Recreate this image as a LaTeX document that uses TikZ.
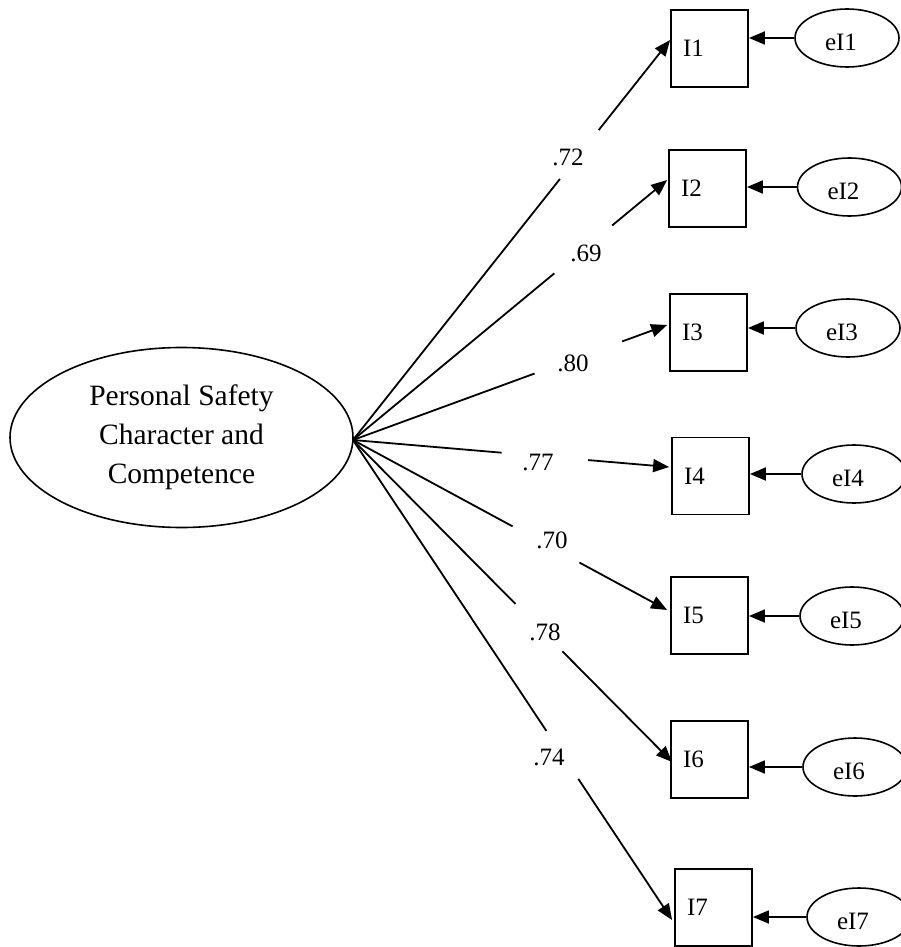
\documentclass[tikz,border=0pt]{standalone}
\usepackage{fontspec}
\setmainfont{Liberation Serif}
\usetikzlibrary{shapes.geometric,arrows.meta,calc}
\begin{document}
\begin{tikzpicture}[x=1pt,y=-1pt,
  every path/.style={line width=1.8pt},
  arr/.style={-{Triangle[length=16pt,width=13pt]}},
  latent/.style={draw,ellipse,line width=1.6pt,inner sep=0pt,minimum width=343pt,minimum height=180pt,align=center,font=\fontsize{29.5}{39}\selectfont},
  obs/.style={draw,rectangle,line width=1.8pt,minimum width=77pt,minimum height=77pt,text width=53pt,inner sep=12pt,align=left,font=\fontsize{25}{30}\selectfont},
  err/.style={draw,ellipse,line width=1.6pt,minimum width=104pt,minimum height=58pt,inner sep=0pt},
  errtxt/.style={font=\fontsize{25}{30}\selectfont,xshift=-6pt,yshift=-4pt},
  coef/.style={font=\fontsize{25}{30}\selectfont,inner sep=0pt}]
\useasboundingbox (0,0) rectangle (900,947);

\node[latent] (F) at (181.5,437.5) {Personal Safety\\Character and\\Competence};
\coordinate (src) at (353,440);

\node[obs] (I1) at (709.5,48.5) {I1};
\node[obs] (I2) at (707.5,188.5) {I2};
\node[obs] (I3) at (708.5,332.5) {I3};
\node[obs] (I4) at (710.5,476) {I4};
\node[obs] (I5) at (709.5,615.5) {I5};
\node[obs] (I6) at (709.5,759.5) {I6};
\node[obs] (I7) at (713.5,907.5) {I7};

\node[err,label={[errtxt]center:eI1}] (e1) at (847,38) {};
\node[err,label={[errtxt]center:eI2}] (e2) at (849.5,187) {};
\node[err,label={[errtxt]center:eI3}] (e3) at (848,328) {};
\node[err,label={[errtxt]center:eI4}] (e4) at (854,474) {};
\node[err,label={[errtxt]center:eI5}] (e5) at (852,616) {};
\node[err,label={[errtxt]center:eI6}] (e6) at (855,767) {};
\node[err,label={[errtxt]center:eI7}] (e7) at (859,917) {};

\foreach \k in {1,...,7}{
  \draw[arr] (e\k.west) -- (e\k.west -| I\k.east);
}

\coordinate (t1) at ($(I1.west)+(0,-8.5)$);
\coordinate (t2) at ($(I2.west)+(-1,-8.5)$);
\coordinate (t3) at ($(I3.west)+(-2,-7.5)$);
\coordinate (t4) at ($(I4.west)+(-2,-9)$);
\coordinate (t5) at ($(I5.west)+(-3,-5.5)$);
\coordinate (t6) at ($(I6.west)+(2,2.5)$);
\coordinate (t7) at ($(I7.west)+(-2,12.5)$);

\foreach \k/\a/\b in {1/0.6525/0.775, 2/0.641/0.825, 3/0.578/0.857, 4/0.470/0.744, 5/0.508/0.721, 6/0.509/0.656, 7/0.606/0.706}{
  \draw (src) -- ($(src)!\a!(t\k)$);
  \draw[arr] ($(src)!\b!(t\k)$) -- (t\k);
}

\node[coef] (c1) at (568,157) {.72};
\node[coef] (c2) at (586,253) {.69};
\node[coef] (c3) at (573,363) {.80};
\node[coef] (c4) at (538,462) {.77};
\node[coef] (c5) at (552,540) {.70};
\node[coef] (c6) at (545,632) {.78};
\node[coef] (c7) at (549,757) {.74};
\end{tikzpicture}
\end{document}
